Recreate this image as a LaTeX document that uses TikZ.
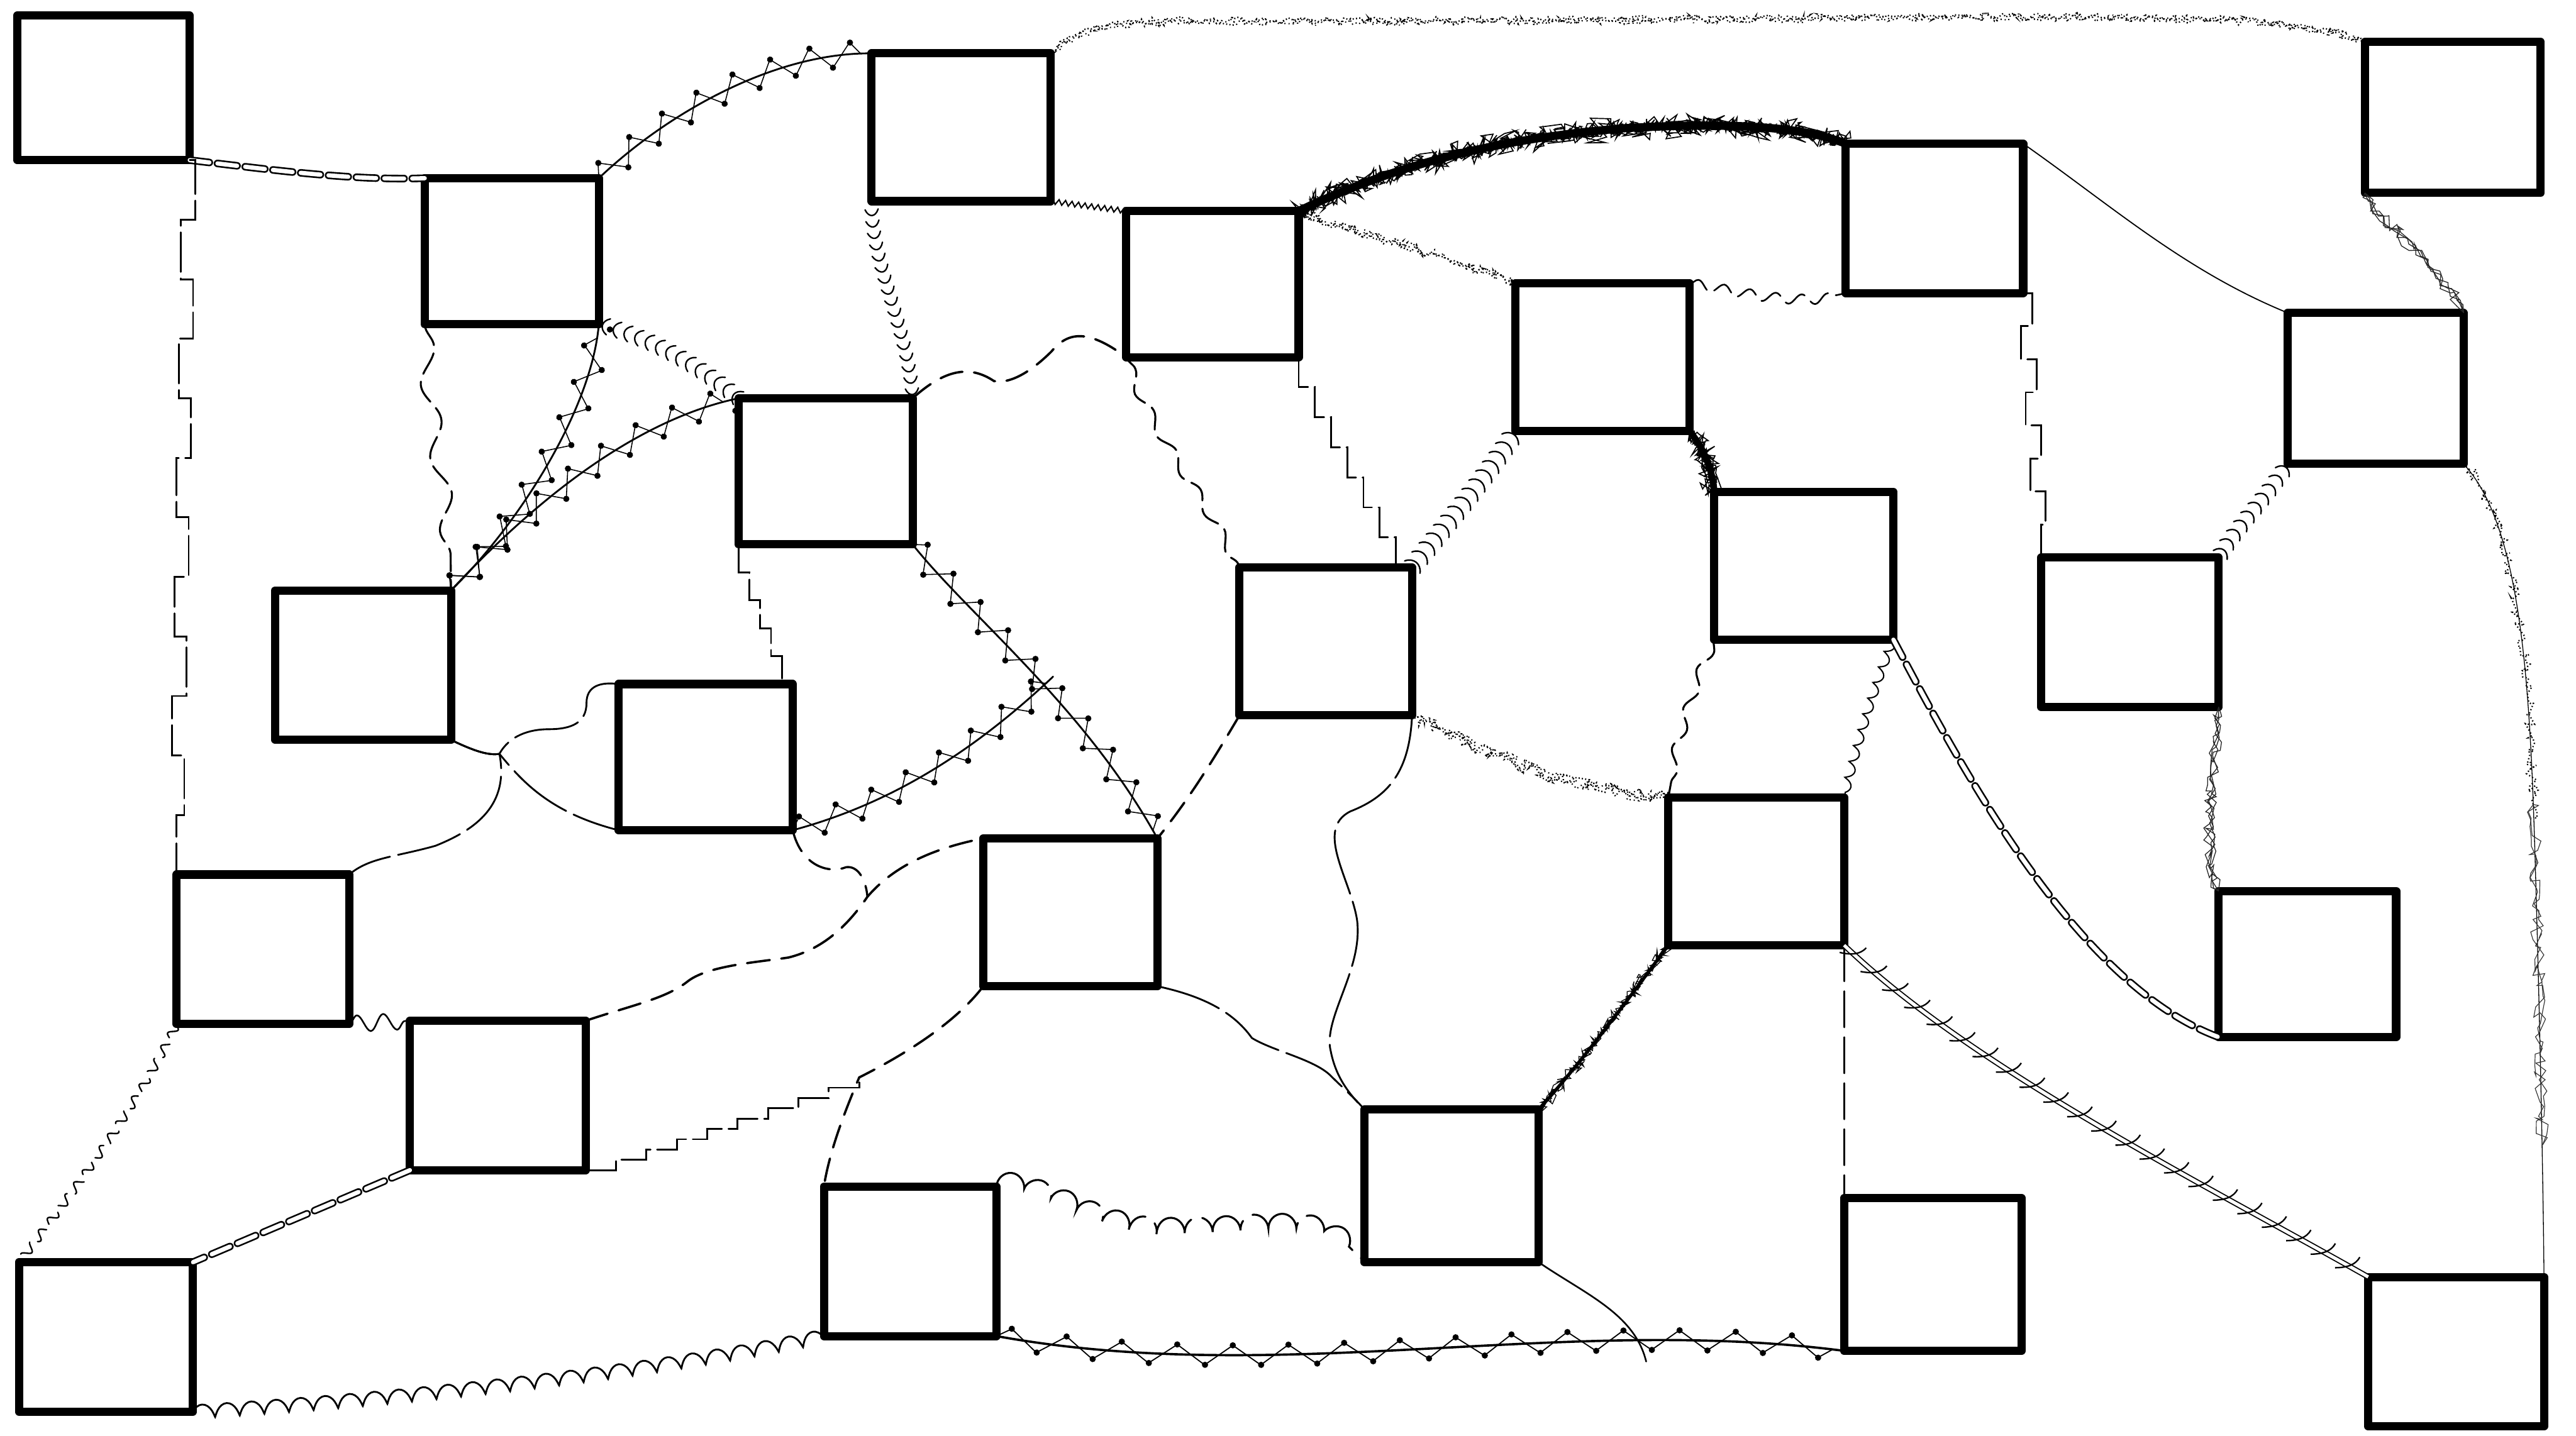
\documentclass[tikz,border=0pt]{standalone}
\usetikzlibrary{decorations.pathmorphing,decorations.markings,calc}
\pgfmathsetseed{7}
\tikzset{
  boxst/.style={draw, line width=5pt, rectangle, inner sep=0pt, outer sep=0pt, line join=round},
  conn/.style={line width=1.2pt, line cap=round},
  dashdouble/.style={conn, line width=1pt, double distance=2.6pt, dash pattern=on 12pt off 5pt},
  stairst/.style={conn, line width=1.1pt, dash pattern=on 24pt off 4pt},
  dashline/.style={conn, line width=1.4pt, dash pattern=on 14pt off 7pt},
  thinbroken/.style={conn, line width=1.1pt, dash pattern=on 40pt off 5pt},
  wavydash/.style 2 args={conn, line width=1.2pt, decorate, decoration={snake, segment length=#1, amplitude=#2}, dash pattern=on 14pt off 5pt},
  zigst/.style={line width=0.8pt, decorate, decoration={zigzag, segment length=4pt, amplitude=1.6pt}},
  chainA/.style={conn, line width=1.1pt,
    postaction={draw, line width=0.6pt, decorate, decoration={zigzag, segment length=24pt, amplitude=7pt}},
    postaction={decorate, decoration={markings,
      mark=between positions 6pt and -2pt step 24pt with {\fill (0pt,7pt) circle (1.9pt);},
      mark=between positions 18pt and -2pt step 24pt with {\fill (0pt,-7pt) circle (1.9pt);}}}},
  chainB/.style={conn, line width=1.4pt,
    postaction={draw, line width=0.7pt, decorate, decoration={zigzag, segment length=34pt, amplitude=6pt}},
    postaction={decorate, decoration={markings,
      mark=between positions 8.5pt and -2pt step 34pt with {\fill (0pt,6pt) circle (1.9pt);},
      mark=between positions 25.5pt and -2pt step 34pt with {\fill (0pt,-6pt) circle (1.9pt);}}}},
  arcst/.style={postaction={decorate, decoration={markings, mark=between positions 3pt and -2pt step 7pt with {\draw[line width=0.9pt, line cap=round] (3pt,-#1) .. controls (-2pt,-0.5*#1) and (-2pt,0.5*#1) .. (3pt,#1);}}}},
  arcst/.default=5pt,
  coilst/.style={conn, line width=1.1pt, decorate, decoration={coil, aspect=0.5, segment length=15pt, amplitude=4pt}},
  loopst/.style={conn, line width=0.8pt, decorate, decoration={coil, aspect=0.5, segment length=10pt, amplitude=2.5pt}},
  bumpst/.style={conn, line width=1.2pt, decorate, decoration={bumps, segment length=34pt, amplitude=9pt}, dash pattern=on 45pt off 7pt},
  barbst/.style={line width=0.7pt, double distance=2pt,
    postaction={decorate, decoration={markings, mark=between positions 8pt and -6pt step 17pt with {\draw[line width=0.9pt] (-7pt,-5pt) .. controls (0pt,-1pt) and (3pt,3pt) .. (3pt,8pt);}}}},
  stipple/.style={
    postaction={draw, line width=0.9pt, dash pattern=on 0.7pt off 1.3pt, decorate, decoration={random steps, segment length=2pt, amplitude=#1}},
    postaction={draw, line width=0.8pt, dash pattern=on 0.7pt off 1.8pt, decorate, decoration={random steps, segment length=1.5pt, amplitude=#1}}},
  stipple/.default=2.5pt,
  hatchst/.style={
    postaction={draw=black!85, line width=0.5pt, decorate, decoration={random steps, segment length=5pt, amplitude=4pt}},
    postaction={draw=black!85, line width=0.5pt, decorate, decoration={random steps, segment length=4pt, amplitude=4pt}},
    postaction={draw=black!85, line width=0.5pt, decorate, decoration={random steps, segment length=6pt, amplitude=3.5pt}},
    postaction={draw=black!85, line width=0.5pt, decorate, decoration={random steps, segment length=3.5pt, amplitude=3pt}}},
  hxst/.style={
    postaction={draw, line width=0.5pt},
    postaction={draw, line width=0.9pt, dash pattern=on 0.7pt off 1.4pt, decorate, decoration={random steps, segment length=2pt, amplitude=3.5pt, post=moveto, post length=280pt}},
    postaction={draw=black!80, line width=0.45pt, decorate, decoration={random steps, segment length=5pt, amplitude=4pt, pre=moveto, pre length=215pt, post=moveto, post length=80pt}},
    postaction={draw=black!80, line width=0.45pt, decorate, decoration={random steps, segment length=4pt, amplitude=4pt, pre=moveto, pre length=215pt, post=moveto, post length=80pt}}},
  scribble/.style={line width=#1, line cap=round,
    postaction={draw, line width=0.65pt, decorate, decoration={random steps, segment length=1.8pt, amplitude=8pt}},
    postaction={draw, line width=0.65pt, decorate, decoration={random steps, segment length=1.4pt, amplitude=6pt}},
    postaction={draw, line width=0.65pt, decorate, decoration={random steps, segment length=1.1pt, amplitude=4.5pt}},
    postaction={draw, line width=0.65pt, decorate, decoration={random steps, segment length=1pt, amplitude=3pt}}},
  scribbletwo/.style={line width=2pt, line cap=round,
    postaction={draw, line width=0.5pt, decorate, decoration={random steps, segment length=1.2pt, amplitude=4pt}},
    postaction={draw, line width=0.5pt, decorate, decoration={random steps, segment length=1pt, amplitude=2.5pt}}}
}
\newcommand\mkbox[5]{\node[boxst, minimum width={#4pt-#2pt-5pt}, minimum height={#5pt-#3pt-5pt}] (#1) at ({(#2+#4)/2},{(#3+#5)/2}) {};}
\newcommand\stairsdraw[5]{\draw[stairst] (#1) foreach \i in {1,...,#3} { #5 ($(#1)!\i/#3!(#2) + ({(2*mod(\i,2)-1)*#4*(\i<#3)},0)$) };}
\begin{document}
\begin{tikzpicture}[x=1pt,y=-1pt]
\fill[white] (0,0) rectangle (1568,874);
\useasboundingbox (0,0) rectangle (1568,874);
% boxes
\mkbox{A}{8}{7}{118}{100}
\mkbox{B}{256}{106}{367}{200}
\mkbox{C}{528}{30}{642}{125}
\mkbox{D}{683}{126}{793}{220}
\mkbox{E}{1121}{85}{1234}{181}
\mkbox{F}{1437}{23}{1549}{120}
\mkbox{G}{920}{170}{1031}{265}
\mkbox{H}{1390}{188}{1502}{285}
\mkbox{I}{447}{240}{558}{334}
\mkbox{J}{165}{357}{277}{453}
\mkbox{K}{374}{414}{485}{508}
\mkbox{L}{752}{343}{862}{438}
\mkbox{M}{1041}{297}{1155}{392}
\mkbox{N}{1240}{337}{1353}{433}
\mkbox{O}{105}{530}{215}{626}
\mkbox{P}{596}{508}{707}{603}
\mkbox{Q}{1013}{483}{1125}{578}
\mkbox{R}{1348}{540}{1461}{634}
\mkbox{S}{247}{619}{359}{715}
\mkbox{T}{828}{673}{939}{771}
\mkbox{U}{499}{720}{609}{816}
\mkbox{V}{1120}{727}{1233}{825}
\mkbox{W}{9}{766}{120}{862}
\mkbox{X}{1439}{775}{1551}{871}
% junctions
\coordinate (jJ) at (304,459);
\coordinate (jKI) at (641,412);
\coordinate (jKP) at (528,546);
\coordinate (jSU) at (523,656);
\coordinate (jTV) at (1002,829);
% connectors
\draw[dashdouble] (A.south east) .. controls (170,104) and (215,110) .. (B.north west);
\stairsdraw{A.south east}{O.north west}{12}{4}{-|}
\draw[chainA] (B.north east) .. controls (405,70) and (470,32) .. (C.north west);
\draw[wavydash={45pt}{5pt}] (B.south west) .. controls (262,260) and (275,300) .. (J.north east);
\path[arcst=5pt] (B.south east) .. controls (395,205) and (425,222) .. (I.north west);
\draw[chainA] (J.north east) .. controls (315,320) and (360,250) .. (B.south east);
\draw[chainA] (J.north east) .. controls (330,300) and (390,255) .. (I.north west);
\draw[zigst] (C.south east) -- (D.north west);
\path[arcst=4pt] (I.north east) .. controls (553,200) and (530,160) .. (C.south west);
\path[stipple=2.5pt] (C.north east) .. controls (660,12) and (700,12) .. (760,13) .. controls (1000,14) and (1300,6) .. (1380,14) .. controls (1410,17) and (1425,20) .. (F.north west);
\draw[scribble=5pt] (D.north east) .. controls (840,105) and (900,85) .. (990,78) .. controls (1060,74) and (1100,78) .. (E.north west);
\path[stipple=3pt] (D.north east) .. controls (820,140) and (870,152) .. (G.north west);
\draw[wavydash={16pt}{3pt}, line width=1pt] (G.north east) .. controls (1060,178) and (1090,186) .. (E.south west);
\draw[conn, line width=0.7pt] (E.north east) .. controls (1285,125) and (1330,165) .. (H.north west);
\path[hatchst] (F.south west) .. controls (1455,140) and (1490,170) .. (H.north east);
\path[arcst=6pt] (G.south west) .. controls (905,290) and (880,320) .. (L.north east);
\draw[scribble=4pt] (G.south east) .. controls (1038,275) and (1042,285) .. (M.north west);
\draw[dashline] (I.north east) .. controls (575,225) and (590,222) .. (605,232) .. controls (615,234) and (628,226) .. (640,214) .. controls (650,202) and (662,200) .. (D.south west);
\draw[wavydash={28pt}{3pt}] (D.south west) .. controls (700,260) and (735,300) .. (L.north west);
\stairsdraw{D.south east}{L.north east}{7}{0}{|-}
\stairsdraw{E.south east}{N.north west}{8}{4}{-|}
\path[arcst=5pt] (H.south west) .. controls (1378,305) and (1362,320) .. (N.north east);
\path[hxst] (H.south east) .. controls (1535,320) and (1540,420) .. (1543,520) .. controls (1546,620) and (1548,720) .. (X.north east);
\path[hatchst] (N.south east) .. controls (1348,470) and (1340,510) .. (R.north west);
\stairsdraw{I.south west}{K.north east}{5}{0}{|-}
\draw[chainA] (I.south east) .. controls (590,375) and (660,430) .. (P.north east);
\draw[chainA] (K.south east) .. controls (540,490) and (590,460) .. (jKI);
\draw[thinbroken] (J.south east) .. controls (290,458) and (298,460) .. (jJ) .. controls (310,448) and (322,444) .. (334,444) .. controls (348,444) and (357,440) .. (357,428) .. controls (357,418) and (365,415) .. (K.north west);
\draw[thinbroken] (J.south east) .. controls (290,458) and (298,460) .. (jJ) .. controls (318,476) and (335,495) .. (K.south west);
\draw[thinbroken] (J.south east) .. controls (290,458) and (298,460) .. (jJ) .. controls (310,490) and (290,505) .. (265,515) .. controls (240,522) and (225,522) .. (O.north east);
\draw[dashline, line width=1.3pt] (K.south east) .. controls (488,528) and (505,532) .. (515,528) .. controls (522,527) and (527,535) .. (jKP);
\draw[dashline] (S.north east) .. controls (385,612) and (405,608) .. (418,598) .. controls (430,588) and (460,586) .. (480,583) .. controls (500,578) and (515,565) .. (jKP) .. controls (540,532) and (560,518) .. (P.north west);
\draw[dashline] (L.south west) .. controls (740,460) and (725,485) .. (P.north east);
\draw[thinbroken] (L.south east) .. controls (858,470) and (845,485) .. (822,494) .. controls (800,505) and (822,535) .. (826,560) .. controls (830,590) and (805,620) .. (810,640) .. controls (813,655) and (820,665) .. (T.north west);
\path[stipple=4pt] (L.south east) .. controls (900,455) and (950,482) .. (Q.north west);
\draw[wavydash={25pt}{3pt}] (M.south west) .. controls (1030,420) and (1020,460) .. (Q.north west);
\draw[loopst] (M.south east) .. controls (1140,420) and (1130,455) .. (Q.north east);
\draw[dashdouble] (M.south east) .. controls (1195,470) and (1265,600) .. (R.south west);
\draw[conn, line width=1pt, dash pattern=on 22pt off 6pt] (Q.south east) -- (V.north west);
\draw[barbst] (Q.south east) .. controls (1200,650) and (1340,720) .. (X.north west);
\draw[scribbletwo] (Q.south west) .. controls (990,610) and (960,650) .. (T.north east);
\draw[dashline] (P.south west) .. controls (580,625) and (545,645) .. (jSU) .. controls (515,675) and (505,700) .. (U.north west);
\stairsdraw{S.south east}{jSU}{9}{0}{-|}
\draw[thinbroken] (P.south east) .. controls (730,606) and (750,615) .. (762,632) .. controls (775,640) and (800,645) .. (810,655) .. controls (818,663) and (824,668) .. (T.north west);
\draw[bumpst] (U.north east) .. controls (640,725) and (660,745) .. (700,750) .. controls (740,752) and (780,745) .. (800,750) .. controls (815,755) and (825,765) .. (T.south west);
\draw[chainB] (U.south east) .. controls (780,845) and (950,800) .. (V.south west);
\draw[conn, line width=1pt] (T.south east) .. controls (965,788) and (995,800) .. (jTV);
\draw[coilst] (W.south east) .. controls (250,852) and (400,835) .. (U.south west);
\draw[dashdouble] (S.south west) -- (W.north east);
\draw[wavydash={9pt}{2.5pt}, line width=0.9pt] (O.south west) .. controls (80,680) and (40,730) .. (W.north west);
\draw[conn, line width=1pt, decorate, decoration={snake, segment length=16pt, amplitude=5pt}] (O.south east) -- (S.north west);
\end{tikzpicture}
\end{document}
